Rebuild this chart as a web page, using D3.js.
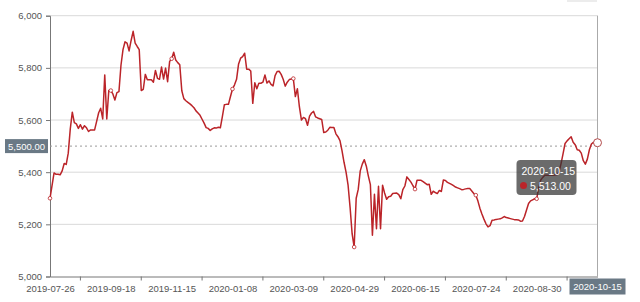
<!DOCTYPE html>
<meta charset="utf-8">
<style>
  body { margin: 0; background: #fff; }
  svg { display: block; font-family: "Liberation Sans", Arial, sans-serif; }
</style>
<svg width="640" height="302"></svg>
<script src="https://d3js.org/d3.v7.min.js"></script>
<script>

// x axis labels, one every 30 points
var tickDates = ["2019-07-26", "2019-09-18", "2019-11-15", "2020-01-08", "2020-03-09",
                 "2020-04-29", "2020-06-15", "2020-07-24", "2020-08-30", "2020-10-15"];
var labelStep = 30;

// price
var prices = [
  5300, 5348, 5397, 5392, 5392, 5390, 5405, 5433, 5430, 5473,
  5566, 5630, 5590, 5585, 5568, 5582, 5565, 5578, 5570, 5556,
  5562, 5562, 5562, 5595, 5628, 5645, 5604, 5773, 5604, 5713,
  5713, 5700, 5677, 5705, 5709, 5810, 5870, 5900, 5895, 5865,
  5905, 5940, 5895, 5882, 5870, 5713, 5718, 5775, 5754, 5754,
  5754, 5745, 5790, 5760, 5756, 5803, 5757, 5799, 5747, 5825,
  5835, 5860, 5830, 5820, 5812, 5712, 5682, 5674, 5668, 5662,
  5655, 5647, 5635, 5627, 5618, 5603, 5588, 5571, 5568, 5560,
  5566, 5570, 5569, 5572, 5570, 5613, 5659, 5660, 5660, 5690,
  5719, 5735, 5756, 5815, 5837, 5843, 5856, 5795, 5795, 5788,
  5664, 5743, 5720, 5741, 5741, 5745, 5773, 5742, 5750, 5737,
  5731, 5770, 5786, 5787, 5775, 5756, 5730, 5745, 5755, 5757,
  5759, 5690, 5720, 5650, 5600, 5610, 5605, 5580, 5615, 5627,
  5633, 5612, 5608, 5605, 5602, 5552, 5554, 5561, 5572, 5571,
  5571, 5547, 5536, 5521, 5483, 5438, 5400, 5350, 5264, 5163,
  5113, 5300, 5334, 5405, 5431, 5448, 5423, 5385, 5352, 5158,
  5315, 5183, 5346, 5183, 5350, 5320, 5296, 5306, 5308, 5318,
  5319, 5320, 5314, 5298, 5333, 5347, 5382, 5372, 5362, 5348,
  5335, 5369, 5369, 5369, 5364, 5358, 5352, 5354, 5315, 5327,
  5322, 5318, 5330, 5326, 5370, 5368, 5361, 5357, 5353, 5348,
  5343, 5340, 5337, 5333, 5334, 5336, 5337, 5337, 5328, 5318,
  5312, 5290, 5262, 5240, 5220, 5202, 5190, 5195, 5216, 5217,
  5219, 5220, 5221, 5225, 5230, 5226, 5224, 5222, 5220, 5218,
  5218, 5217, 5212, 5213, 5230, 5255, 5280, 5290, 5294, 5298,
  5298, 5340, 5370, 5380, 5388, 5388, 5388, 5388, 5388, 5389,
  5390, 5400, 5432, 5470, 5510, 5520, 5528, 5536, 5515, 5505,
  5486, 5484, 5473, 5444, 5431, 5450, 5486, 5508, 5515, 5508,
  5513
];

var pointerValue = 5500;

var svg = d3.select("svg"),
    plotLeft = 50, plotRight = 597.5, plotTop = 15.7, plotBottom = 276.5;

var x = d3.scaleLinear().domain([0, prices.length - 1]).range([plotLeft, plotRight]);
var y = d3.scaleLinear().domain([5000, 6000]).range([plotBottom, plotTop]);

var lineColor = "#bb2429";

// grid lines
svg.append("g")
  .selectAll("line")
  .data(y.ticks(5).slice(1))
  .join("line")
    .attr("x1", plotLeft).attr("x2", plotRight)
    .attr("y1", d => y(d)).attr("y2", d => y(d))
    .attr("stroke", "#d9d9d9");

// y axis
var yAxis = svg.append("g")
    .attr("transform", "translate(" + plotLeft + ",0)")
    .call(d3.axisLeft(y).ticks(5).tickFormat(d3.format(",")).tickSize(4).tickPadding(4));
yAxis.select(".domain").attr("stroke", "#777");
yAxis.selectAll(".tick line").attr("stroke", "#777");
yAxis.selectAll("text").attr("fill", "#555").attr("font-size", 9.5)
    .attr("font-family", "'Liberation Sans', Arial, sans-serif");

// x axis: labels at every labelStep, ticks half way between
// (the last label sits under the pointer box, which shows the same date)
var labelIdx = tickDates.map((d, i) => i * labelStep);
var xAxis = svg.append("g")
    .attr("transform", "translate(0," + plotBottom + ")")
    .call(d3.axisBottom(x).tickValues(labelIdx.slice(0, -1))
        .tickFormat((d, i) => tickDates[i]).tickSize(0).tickPadding(9));
xAxis.select(".domain").attr("stroke", "#777");
xAxis.selectAll("text").attr("fill", "#555").attr("font-size", 9.5)
    .attr("font-family", "'Liberation Sans', Arial, sans-serif");

svg.append("g")
  .selectAll("line")
  .data(labelIdx.slice(0, -1).map(d => d + labelStep / 2))
  .join("line")
    .attr("x1", d => x(d)).attr("x2", d => x(d))
    .attr("y1", plotBottom).attr("y2", plotBottom + 4)
    .attr("stroke", "#777");

// axis pointer lines
var last = prices.length - 1;
svg.append("line")
    .attr("x1", x(last)).attr("x2", x(last))
    .attr("y1", plotTop).attr("y2", plotBottom)
    .attr("stroke", "#aaa");
svg.append("line")
    .attr("x1", plotLeft).attr("x2", plotRight)
    .attr("y1", y(pointerValue)).attr("y2", y(pointerValue))
    .attr("stroke", "#999").attr("stroke-dasharray", "2,3");

// price line
svg.append("path")
    .datum(prices)
    .attr("fill", "none")
    .attr("stroke", lineColor)
    .attr("stroke-width", 1.5)
    .attr("stroke-linejoin", "round")
    .attr("d", d3.line().x((d, i) => x(i)).y(d => y(d)));

// symbols at label points
svg.append("g")
  .selectAll("circle")
  .data(labelIdx.slice(0, -1))
  .join("circle")
    .attr("cx", d => x(d)).attr("cy", d => y(prices[d]))
    .attr("r", 1.8)
    .attr("fill", "#fff").attr("stroke", lineColor).attr("stroke-width", 0.8);

svg.append("circle")
    .attr("cx", x(last)).attr("cy", y(prices[last]))
    .attr("r", 4)
    .attr("fill", "#fff").attr("stroke", "#b24a4a").attr("stroke-width", 1);

// pointer label on y axis
var yl = svg.append("g").attr("transform", "translate(5," + (y(pointerValue) - 7) + ")");
yl.append("rect").attr("width", 43).attr("height", 14).attr("fill", "#6a7985");
yl.append("text").attr("x", 21.5).attr("y", 10.5).attr("text-anchor", "middle")
    .attr("fill", "#fff").attr("font-size", 9.5).text(d3.format(",.2f")(pointerValue));

// pointer label on x axis
var xl = svg.append("g").attr("transform", "translate(" + (x(last) - 28) + "," + (plotBottom + 2) + ")");
xl.append("rect").attr("width", 56).attr("height", 16).attr("fill", "#6a7985");
xl.append("text").attr("x", 28).attr("y", 11.5).attr("text-anchor", "middle")
    .attr("fill", "#fff").attr("font-size", 9.5).text(tickDates[tickDates.length - 1]);

// tooltip
var tt = svg.append("g").attr("transform", "translate(516.5,160)");
tt.append("rect").attr("width", 60).attr("height", 35).attr("rx", 4)
    .attr("fill", "rgba(50,50,50,0.72)");
tt.append("text").attr("x", 5).attr("y", 15).attr("fill", "#fff").attr("font-size", 10.5)
    .text(tickDates[tickDates.length - 1]);
tt.append("circle").attr("cx", 7).attr("cy", 25.5).attr("r", 3.5).attr("fill", lineColor);
tt.append("text").attr("x", 13.5).attr("y", 29.5).attr("fill", "#fff").attr("font-size", 10.5)
    .text(d3.format(",.2f")(prices[last]));

// faint toolbox strip top right
svg.append("rect").attr("x", 567).attr("y", 0).attr("width", 30).attr("height", 2).attr("fill", "#ececec");

</script>
